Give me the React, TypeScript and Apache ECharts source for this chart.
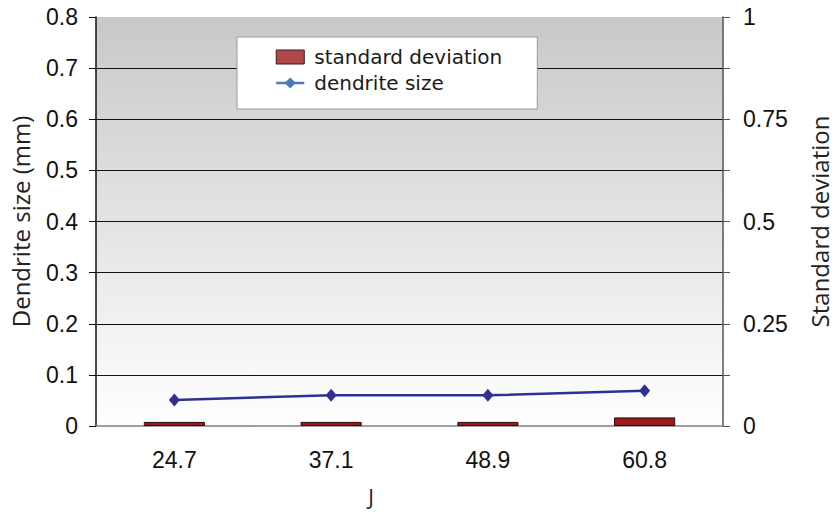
import React, { useEffect, useRef } from "react";
import * as echarts from "echarts";

const categories = ["24.7", "37.1", "48.9", "60.8"];
const dendriteSize = [0.051, 0.06, 0.06, 0.069];
const standardDeviation = [0.01, 0.01, 0.01, 0.021];
const rightAxisLabels = [0, 0.25, 0.5, 0.75, 1];

export default function App() {
  const ref = useRef<HTMLDivElement>(null);
  useEffect(() => {
    if (!ref.current) return;
    const chart = echarts.init(ref.current, null, { renderer: "svg" });
    const tickFont = { fontFamily: "Liberation Sans", fontSize: 23, color: "#111" };
    const titleFont = { fontFamily: "Open Sans", fontSize: 24, color: "#222" };
    chart.setOption({
      animation: false,
      backgroundColor: "#ffffff",
      grid: {
        left: 93,
        right: 106,
        top: 17,
        bottom: 86,
        show: true,
        borderWidth: 0,
        backgroundColor: new echarts.graphic.LinearGradient(0, 0, 0, 1, [
          { offset: 0, color: "#c8c8c8" },
          { offset: 1, color: "#ffffff" },
        ]),
      },
      legend: {
        orient: "vertical",
        left: 237,
        top: 37,
        backgroundColor: "#ffffff",
        borderColor: "#9a9a9a",
        borderWidth: 1,
        padding: [10, 35, 16, 38],
        itemGap: 6,
        itemWidth: 28,
        itemHeight: 14,
        textStyle: {
          fontFamily: "DejaVu Sans",
          fontSize: 20,
          color: "#1a1a1a",
          padding: [0, 0, 0, 5],
        },
        data: [
          {
            name: "standard deviation",
            icon: "rect",
            itemStyle: { color: "#b0484a", borderColor: "#3a1a1a", borderWidth: 1 },
          },
          {
            name: "dendrite size",
            itemStyle: { color: "#4a7ab8", borderWidth: 0 },
            lineStyle: { color: "#4a7ab8", width: 2.5 },
          },
        ],
      },
      graphic: [
        {
          type: "text",
          x: 371,
          y: 497,
          style: {
            text: "J",
            ...{ fontFamily: "Open Sans", fontSize: 21, fill: "#222" },
            textAlign: "center",
            textVerticalAlign: "middle",
          },
        },
      ],
      xAxis: {
        type: "category",
        data: categories,
        boundaryGap: true,
        axisLine: { lineStyle: { color: "#808080", width: 1.5 } },
        axisTick: { length: 7, lineStyle: { color: "#333" } },
        axisLabel: { ...tickFont, margin: 22 },
      },
      yAxis: [
        {
          type: "value",
          min: 0,
          max: 0.8,
          interval: 0.1,
          name: "Dendrite size (mm)",
          nameLocation: "middle",
          nameGap: 64,
          nameTextStyle: titleFont,
          axisLine: { show: true, lineStyle: { color: "#111", width: 1.5 } },
          axisTick: { show: true, length: 7, lineStyle: { color: "#111" } },
          axisLabel: {
            ...tickFont,
            margin: 18,
            formatter: (v: number) => (v === 0 ? "0" : v.toFixed(1)),
          },
          splitLine: {
            show: true,
            lineStyle: {
              color: ["transparent", "#111", "#111", "#111", "#111", "#111", "#111", "#111", "transparent"],
              width: 1,
            },
          },
        },
        {
          type: "value",
          min: 0,
          max: 1,
          interval: 0.125,
          position: "right",
          name: "Standard deviation",
          nameLocation: "middle",
          nameGap: 84,
          nameRotate: 90,
          nameTextStyle: titleFont,
          axisLine: { show: true, lineStyle: { color: "#555", width: 1.5 } },
          axisTick: { show: true, length: 7, lineStyle: { color: "#555" } },
          axisLabel: {
            ...tickFont,
            margin: 20,
            formatter: (v: number) => {
              const hit = rightAxisLabels.find((x) => Math.abs(x - v) < 1e-6);
              return hit === undefined ? "" : String(hit);
            },
          },
          splitLine: { show: false },
        },
      ],
      series: [
        {
          name: "standard deviation",
          type: "bar",
          yAxisIndex: 1,
          data: standardDeviation,
          barWidth: "39%",
          itemStyle: { color: "#9a1a1f", borderColor: "#2a0a0a", borderWidth: 1 },
        },
        {
          name: "dendrite size",
          type: "line",
          yAxisIndex: 0,
          data: dendriteSize,
          symbol: "diamond",
          symbolSize: [11, 13],
          lineStyle: { color: "#2e3192", width: 2.5 },
          itemStyle: { color: "#2e3192" },
        },
      ],
    });
    return () => chart.dispose();
  }, []);
  return <div ref={ref} style={{ width: 839, height: 512, position: "absolute", left: 0, top: 0 }} />;
}
